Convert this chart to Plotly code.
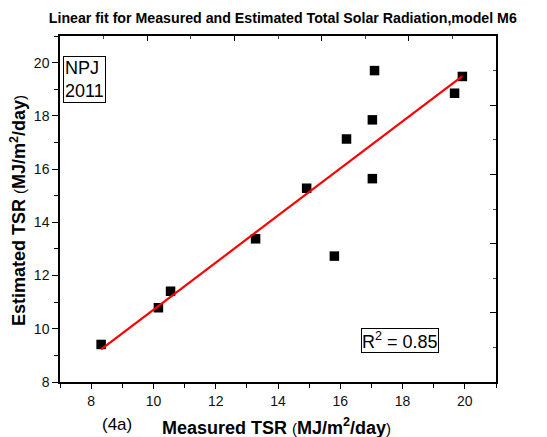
import numpy as np
import plotly.graph_objects as go

# Data
measured = [8.32, 10.16, 10.55, 13.28, 14.92, 15.81, 16.20, 17.03, 17.03, 17.10, 19.67, 19.92]
estimated = [9.41, 10.79, 11.41, 13.38, 15.28, 12.73, 17.13, 17.85, 15.64, 19.70, 18.85, 19.48]
x_tickvals = [8, 10, 12, 14, 16, 18, 20]
y_tickvals = [8, 10, 12, 14, 16, 18, 20]
r2_label = "R<sup>2</sup> = 0.85"
site_label = "NPJ<br>2011"
panel_label = "(4a)"
title_text = "Linear fit for Measured and Estimated Total Solar Radiation,model M6"

# Linear fit computed from data
slope, intercept = np.polyfit(measured, estimated, 1)
fit_x = [min(measured), max(measured)]
fit_y = [slope * v + intercept for v in fit_x]

FONT = "Liberation Sans, Arial, sans-serif"

fig = go.Figure()
fig.add_trace(go.Scatter(
    x=measured, y=estimated, mode="markers",
    marker=dict(symbol="square", size=9.5, color="black"),
    showlegend=False, hoverinfo="skip"))
fig.add_trace(go.Scatter(
    x=fit_x, y=fit_y, mode="lines",
    line=dict(color="#ff0000", width=2.2),
    showlegend=False, hoverinfo="skip"))
# dummy trace for mirror axes
fig.add_trace(go.Scatter(x=[None], y=[None], xaxis="x2", yaxis="y2",
                         showlegend=False, hoverinfo="skip"))

axis_common = dict(showgrid=False, zeroline=False, showline=True,
                   linecolor="black", linewidth=1.5)

fig.update_layout(
    width=547, height=437,
    margin=dict(l=60, r=51, t=36, b=55),
    paper_bgcolor="white", plot_bgcolor="white",
    font=dict(family=FONT, color="black", size=14),
    title=dict(text="<b>" + title_text + "</b>", x=0.517, xanchor="center",
               y=1 - 18 / 437, yanchor="middle", yref="container",
               font=dict(size=14.2, family=FONT, color="black")),
    xaxis=dict(range=[7, 21], tickvals=x_tickvals, ticks="outside", ticklen=5,
               tickwidth=1.3, tickcolor="black",
               minor=dict(dtick=1, tick0=7, ticks="outside", ticklen=4,
                          tickwidth=1.2, tickcolor="black"),
               tickfont=dict(size=14, family=FONT, color="#111"),
               **axis_common),
    yaxis=dict(range=[8, 21], tickvals=y_tickvals, ticks="outside", ticklen=6,
               tickwidth=1.3, tickcolor="black",
               minor=dict(dtick=1, tick0=8, ticks="outside", ticklen=4,
                          tickwidth=1.2, tickcolor="black"),
               tickfont=dict(size=14, family=FONT, color="#111"),
               **axis_common),
    xaxis2=dict(overlaying="x", side="top", anchor="y", range=[0, 10],
                tick0=0, dtick=2, ticks="inside", ticklen=5, tickwidth=1.2,
                tickcolor="black", showticklabels=False,
                minor=dict(dtick=1, ticks="inside", ticklen=3, tickwidth=1,
                           tickcolor="#444"),
                **axis_common),
    yaxis2=dict(overlaying="y", side="right", anchor="x", range=[0, 10],
                tick0=0, dtick=2, ticks="inside", ticklen=6, tickwidth=1.2,
                tickcolor="black", showticklabels=False,
                minor=dict(dtick=1, ticks="inside", ticklen=3, tickwidth=1,
                           tickcolor="#444"),
                **axis_common),
)

fig.add_annotation(
    text=site_label, xref="paper", yref="paper", x=0.007, y=0.941,
    xanchor="left", yanchor="top", showarrow=False, align="left",
    font=dict(size=18, family=FONT, color="black"),
    bordercolor="black", borderwidth=1, borderpad=1, bgcolor="white")
fig.add_annotation(
    text=r2_label, xref="paper", yref="paper", x=0.69, y=0.084,
    xanchor="left", yanchor="bottom", showarrow=False,
    font=dict(size=18, family=FONT, color="black"),
    bordercolor="black", borderwidth=1, borderpad=0, bgcolor="white")
fig.add_annotation(
    text=panel_label, xref="paper", yref="paper", x=0.1296, y=-0.124,
    xanchor="center", yanchor="middle", showarrow=False,
    font=dict(size=17, family=FONT, color="black"))

paren = '<span style="font-weight:normal;font-size:15px">%s</span>'
unit = paren % "(" + "<b>MJ/m<sup>2</sup>/day</b>" + paren % ")"
fig.add_annotation(
    text="<b>Measured TSR </b>" + unit, xref="paper", yref="paper",
    x=0.4977, y=-0.128, xanchor="center", yanchor="middle", showarrow=False,
    font=dict(size=18, family=FONT, color="black"))
fig.add_annotation(
    text="<b>Estimated TSR </b>" + unit, xref="paper", yref="paper",
    x=-0.0963, y=0.494, xanchor="center", yanchor="middle", showarrow=False,
    textangle=-90, font=dict(size=18, family=FONT, color="black"))

fig.write_html("out.html", config={"displayModeBar": False},
               post_script="document.body.style.margin='0';document.body.style.overflow='hidden';")
